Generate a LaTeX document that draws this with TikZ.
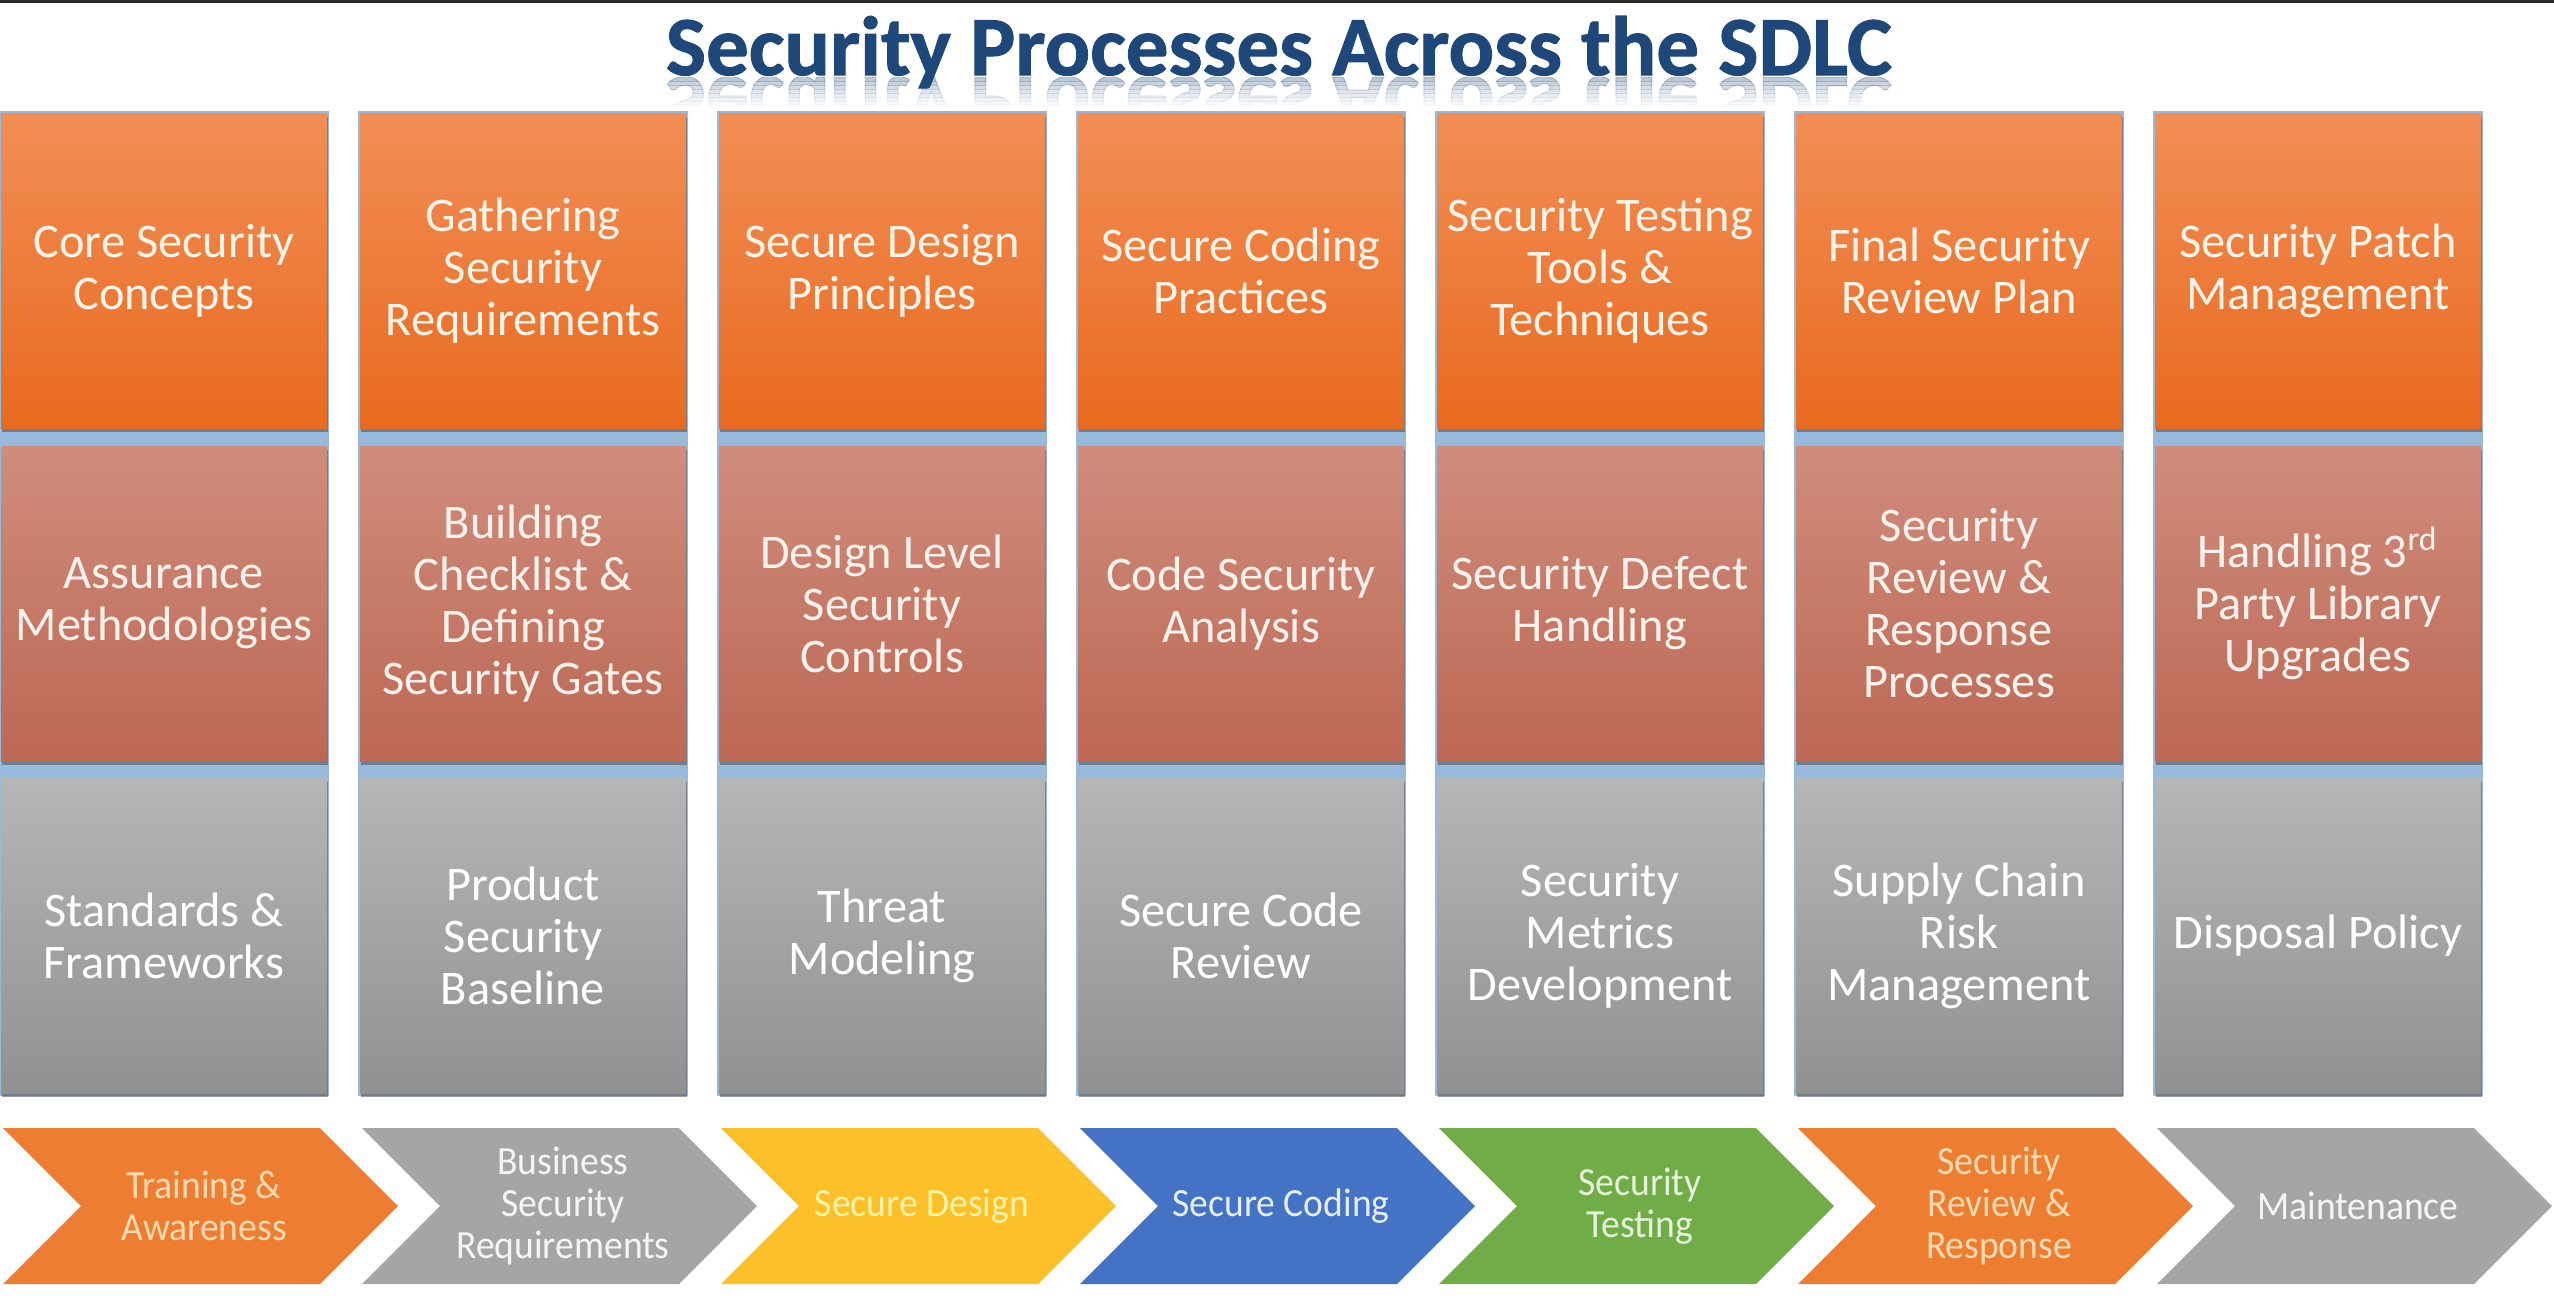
\documentclass[tikz,border=0pt]{standalone}
\usepackage{graphicx}
\usepackage{fontspec}
\setmainfont{Carlito}
\newfontfamily\arrowfont[FakeStretch=0.94]{Carlito}
\newfontfamily\headfont[FakeBold=1.2]{Carlito Bold}
\usetikzlibrary{shadows}
\definecolor{titleblue}{RGB}{30,72,122}
\definecolor{topbar}{RGB}{42,42,42}
\definecolor{colblue}{RGB}{150,185,220}
\definecolor{otop}{RGB}{242,142,85}
\definecolor{obot}{RGB}{232,106,32}
\definecolor{rtop}{RGB}{208,140,124}
\definecolor{rbot}{RGB}{188,104,84}
\definecolor{gtop}{RGB}{182,182,182}
\definecolor{gbot}{RGB}{145,145,145}
\definecolor{otext}{RGB}{255,244,234}
\definecolor{rtext}{RGB}{255,242,236}
\definecolor{gtext}{RGB}{255,255,255}
\definecolor{aorange}{RGB}{237,125,49}
\definecolor{agray}{RGB}{165,165,165}
\definecolor{ayellow}{RGB}{252,192,40}
\definecolor{ablue}{RGB}{68,114,196}
\definecolor{agreen}{RGB}{112,173,71}
\definecolor{tpeach}{RGB}{255,218,178}
\definecolor{twhite}{RGB}{245,245,245}
\definecolor{tyellow}{RGB}{255,242,170}
\definecolor{tblue}{RGB}{228,238,255}
\definecolor{tgreen}{RGB}{230,242,220}
\newcommand{\titletext}{\resizebox{367.8pt}{17.7pt}{\headfont Security Processes Across the SDLC}}
\begin{document}
\begin{tikzpicture}[x=0.3pt, y=-0.3pt,
  box/.style={minimum width=97.8pt, minimum height=94.5pt, inner sep=0pt,
    align=center, font=\fontsize{14.5}{15.6}\selectfont,
    drop shadow={shadow xshift=0.4pt, shadow yshift=-1.2pt, opacity=0.55, fill=black!70}},
  toprow/.style={box, top color=otop, bottom color=obot, text=otext},
  midrow/.style={box, top color=rtop, bottom color=rbot, text=rtext},
  botrow/.style={box, top color=gtop, bottom color=gbot, text=gtext},
  arrowtext/.style={inner sep=0pt, align=center, font=\arrowfont\fontsize{12}{12.6}\selectfont},
  titlefont/.style={inner sep=0pt, anchor=base}
]
\useasboundingbox (0,0) rectangle (2554,1300);
\fill[white] (0,0) rectangle (2554,1300);
\fill[topbar] (0,0) rectangle (2554,3);

% title reflection (mirrored copy, fading out in slices)
\foreach \k/\op in {0/0.42,1/0.34,2/0.27,3/0.20,4/0.14,5/0.09,6/0.05}{
  \pgfmathsetmacro\ya{77+4*\k}
  \pgfmathsetmacro\yb{81+4*\k}
  \begin{scope}
    \clip (600,\ya) rectangle (1960,\yb);
    \begin{scope}[shift={(1279,77)}]
      \node (titlerefl\k) [titlefont, yscale=-1, text=titleblue!70, opacity=\op] at (0,0) {\titletext};
    \end{scope}
  \end{scope}
}
% title
\node (title) [titlefont, text=titleblue] at (1279,75) {\titletext};

% columns
\foreach \i/\ta/\tb/\tc in {
  0/{Core Security\\Concepts}/{Assurance\\Methodologies}/{Standards \&\\Frameworks},
  1/{Gathering\\Security\\Requirements}/{Building\\Checklist \&\\Defining\\Security Gates}/{Product\\Security\\Baseline},
  2/{Secure Design\\Principles}/{Design Level\\Security\\Controls}/{Threat\\Modeling},
  3/{Secure Coding\\Practices}/{Code Security\\Analysis}/{Secure Code\\Review},
  4/{Security Testing\\Tools \&\\Techniques}/{Security Defect\\Handling}/{Security\\Metrics\\Development},
  5/{Final Security\\Review Plan}/{Security\\Review \&\\Response\\Processes}/{Supply Chain\\Risk\\Management},
  6/{Security Patch\\Management}/{Handling 3\textsuperscript{rd}\\Party Library\\Upgrades}/{Disposal Policy}}
{
  \pgfmathsetmacro\L{1+359*\i}
  \pgfmathsetmacro\C{164+359*\i}
  \fill[colblue] (\L-2,111) rectangle (\L+328,1096);
  \node (top\i) [toprow] at (\C,270.5) {\ta};
  \node (mid\i) [midrow] at (\C,603.5) {\tb};
  \node (bot\i) [botrow] at (\C,935.5) {\tc};
}

% process chevrons
\foreach \i/\fc/\tcol/\txt in {
  0/aorange/tpeach/{Training \&\\Awareness},
  1/agray/twhite/{Business\\Security\\Requirements},
  2/ayellow/tyellow/{Secure Design},
  3/ablue/tblue/{Secure Coding},
  4/agreen/tgreen/{Security\\Testing},
  5/aorange/tpeach/{Security\\Review \&\\Response},
  6/agray/twhite/{Maintenance}}
{
  \pgfmathsetmacro\A{3+359*\i}
  \fill[\fc] (\A,1128) -- ++(317,0) -- ++(78,78) -- ++(-78,78) -- ++(-317,0) -- ++(78,-78) -- cycle;
  \node (step\i) [arrowtext, text=\tcol] at (\A+201,1206) {\txt};
}
\end{tikzpicture}
\end{document}
